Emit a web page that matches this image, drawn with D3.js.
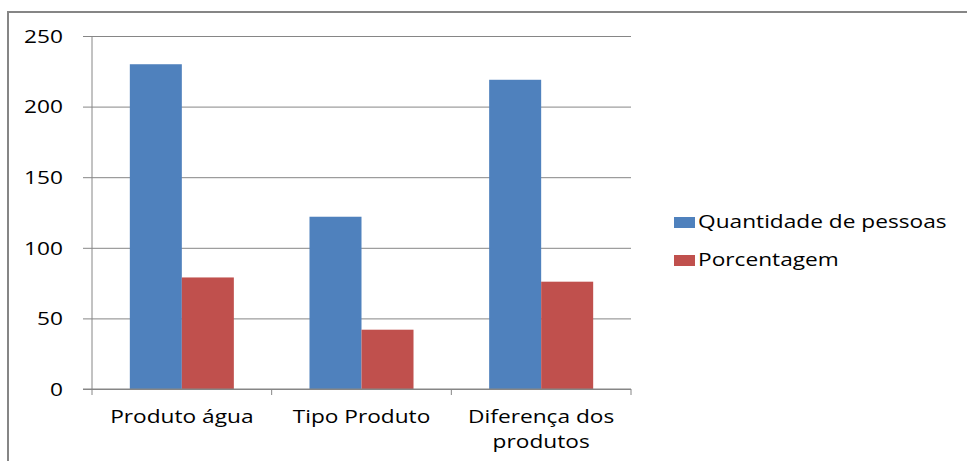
<!DOCTYPE html>
<html>
<head>
<meta charset="utf-8">
<script src="https://cdn.jsdelivr.net/npm/d3@7"></script>
<style>
  html, body { margin: 0; padding: 0; background: #ffffff; }
  svg { display: block; }
  text { font-family: "Open Sans", "DejaVu Sans", sans-serif; fill: #000; }
</style>
</head>
<body>
<svg id="chart" width="967" height="462"></svg>
<script>
// Categories, series and axis ticks
const categories = ["Produto água", "Tipo Produto", "Diferença dos produtos"];
const categoryLines = [["Produto água"], ["Tipo Produto"], ["Diferença dos", "produtos"]];
const seriesNames = ["Quantidade de pessoas", "Porcentagem"];
const quantidade = [230, 122, 219];
const porcentagem = [79, 42, 76];
const yTicks = [0, 50, 100, 150, 200, 250];
const colors = ["#4F81BD", "#C0504D"];

const svg = d3.select("#chart");
const gridColor = "#868686";
const fontSize = 18;
const stretch = 1.26; // wide lettering

// Outer chart frame
svg.append("path")
  .attr("d", "M8,461 L8,12 L967,12")
  .attr("fill", "none")
  .attr("stroke", gridColor)
  .attr("stroke-width", 2);

const plot = { left: 92, right: 631, top: 36, bottom: 389 };

const y = d3.scaleLinear().domain([0, 250]).range([plot.bottom, plot.top]);
const x0 = d3.scaleBand().domain(categories).range([plot.left, plot.right])
  .paddingInner(0.421).paddingOuter(0.2105);
const x1 = d3.scaleBand().domain(seriesNames).range([0, x0.bandwidth()]);

// Horizontal gridlines and y tick labels
const yAxis = d3.axisLeft(y).tickValues(yTicks).tickSize(9);
const yg = svg.append("g").attr("transform", `translate(${plot.left},0)`).call(yAxis);
yg.select(".domain").remove();
yg.selectAll(".tick line").attr("stroke", gridColor);
yg.selectAll(".tick text")
  .attr("font-size", fontSize).attr("dy", "0.35em")
  .attr("transform", `scale(${stretch},1)`)
  .attr("x", -29 / stretch)
  .attr("fill", "#000");
yg.selectAll(".tick").append("line")
  .attr("x1", 0).attr("x2", plot.right - plot.left)
  .attr("stroke", gridColor).attr("stroke-width", 1);

// Y axis line
svg.append("line")
  .attr("x1", plot.left).attr("x2", plot.left)
  .attr("y1", plot.top).attr("y2", plot.bottom)
  .attr("stroke", gridColor);

// Bars
const rows = categories.map((c, i) => ({ cat: c, vals: [quantidade[i], porcentagem[i]] }));
const groups = svg.append("g").selectAll("g").data(rows).join("g")
  .attr("transform", d => `translate(${x0(d.cat)},0)`);
groups.selectAll("rect")
  .data(d => d.vals.map((v, k) => ({ key: seriesNames[k], v, k })))
  .join("rect")
  .attr("x", d => x1(d.key))
  .attr("y", d => y(d.v))
  .attr("width", x1.bandwidth())
  .attr("height", d => y(0) - y(d.v))
  .attr("fill", d => colors[d.k]);

// X axis with category boundary ticks
svg.append("line")
  .attr("x1", 83).attr("x2", plot.right)
  .attr("y1", plot.bottom).attr("y2", plot.bottom)
  .attr("stroke", gridColor);
d3.range(categories.length + 1).forEach(i => {
  const xx = plot.left + i * (plot.right - plot.left) / categories.length;
  svg.append("line")
    .attr("x1", xx).attr("x2", xx)
    .attr("y1", plot.bottom).attr("y2", plot.bottom + 6)
    .attr("stroke", gridColor);
});

// Category labels
categoryLines.forEach((lines, i) => {
  const cx = x0(categories[i]) + x0.bandwidth() / 2;
  lines.forEach((ln, j) => {
    svg.append("text")
      .attr("transform", `translate(${cx},${423 + j * 25}) scale(${stretch},1)`)
      .attr("text-anchor", "middle")
      .attr("font-size", fontSize)
      .text(ln);
  });
});

// Legend
const legend = svg.append("g");
seriesNames.forEach((name, i) => {
  const ly = 217 + i * 38;
  legend.append("rect")
    .attr("x", 674).attr("y", ly)
    .attr("width", 21).attr("height", 11)
    .attr("fill", colors[i]);
  legend.append("text")
    .attr("transform", `translate(698,${ly + 11}) scale(${stretch},1)`)
    .attr("font-size", fontSize)
    .text(name);
});
</script>
</body>
</html>
